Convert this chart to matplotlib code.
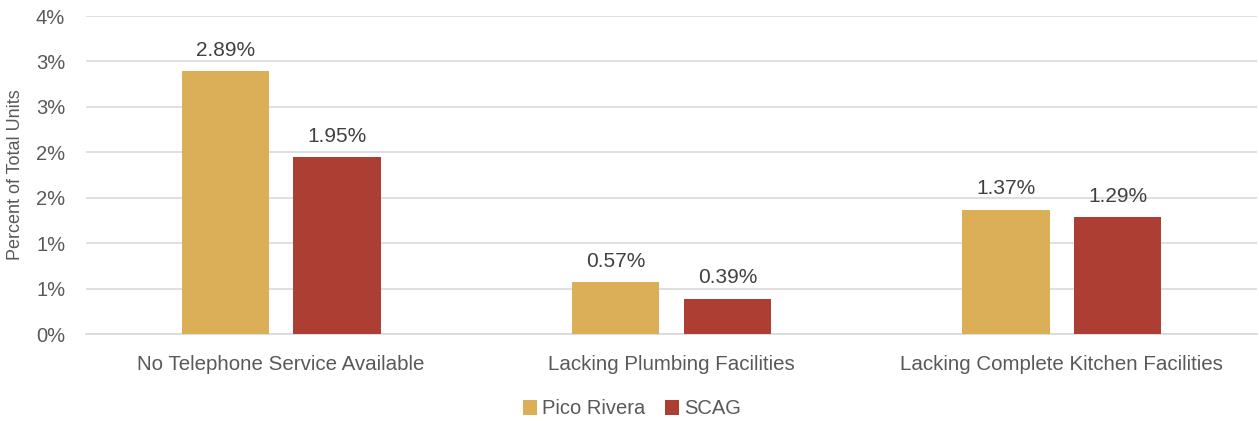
import matplotlib
matplotlib.use("Agg")
import matplotlib.pyplot as plt
import numpy as np

# data
categories = ["No Telephone Service Available", "Lacking Plumbing Facilities",
              "Lacking Complete Kitchen Facilities"]
pico_rivera = [2.89, 0.57, 1.37]
scag = [1.95, 0.39, 1.29]
series_names = ["Pico Rivera", "SCAG"]
tick_values = [0, 0.5, 1.0, 1.5, 2.0, 2.5, 3.0, 3.5]
tick_labels = ["0%", "1%", "1%", "2%", "2%", "3%", "3%", "4%"]

gold = "#DBAE58"
red = "#AD3E33"
text_col = "#595959"

plt.rcParams['font.family'] = ['Liberation Sans', 'DejaVu Sans']

fig = plt.figure(figsize=(12.59, 4.21), dpi=100)
ax = fig.add_axes([86 / 1259, 1 - 334 / 421, 1171 / 1259, 318 / 421])

x = np.arange(len(categories))
w = 0.223
off = 0.143
b1 = ax.bar(x - off, pico_rivera, w, color=gold, label=series_names[0], zorder=3)
b2 = ax.bar(x + off, scag, w, color=red, label=series_names[1], zorder=3)

for bars, vals in ((b1, pico_rivera), (b2, scag)):
    for rect, v in zip(bars, vals):
        ax.annotate(f"{v:.2f}%", (rect.get_x() + rect.get_width() / 2, v),
                    xytext=(0, 8), textcoords="offset points", ha="center",
                    va="bottom", fontsize=15, color="#404040")

ax.set_xlim(-0.5, 2.5)
ax.set_ylim(0, 3.5)
ax.set_yticks(tick_values)
ax.set_yticklabels(tick_labels, fontsize=14.5, color=text_col)
ax.set_xticks(x)
ax.set_xticklabels(categories, fontsize=14.8, color=text_col)
ax.tick_params(axis="both", length=0)
ax.tick_params(axis="y", pad=15)
ax.tick_params(axis="x", pad=15)
ax.grid(axis="y", color="#D9D9D9", linewidth=1.2, zorder=0)
for s in ["top", "right", "left"]:
    ax.spines[s].set_visible(False)
ax.spines["bottom"].set_color("#D9D9D9")
ax.spines["bottom"].set_linewidth(1.2)

ax.set_ylabel("Percent of Total Units", fontsize=13, color=text_col)
ax.yaxis.set_label_coords(-62 / 1171, 0.5)

fig.legend(loc="center", bbox_to_anchor=(632 / 1259, 1 - 409 / 421), ncol=2,
           frameon=False, fontsize=14.5, handlelength=0.7, handleheight=0.7,
           handletextpad=0.25, columnspacing=1.0, labelcolor=text_col)

fig.savefig("out.png", dpi=100)
